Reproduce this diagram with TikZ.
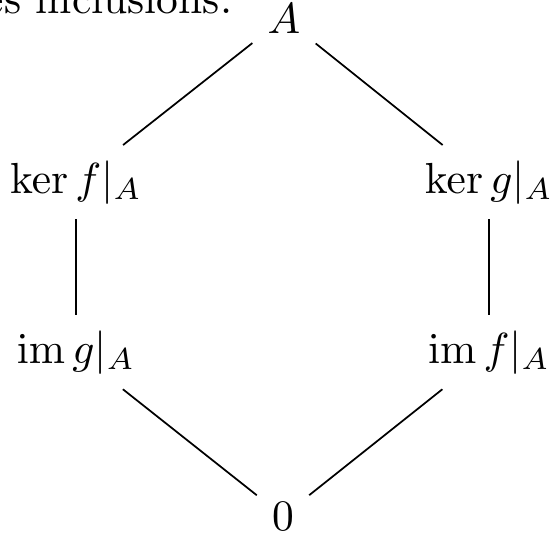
\documentclass[tikz,border=0pt]{standalone}
\usepackage{amsmath}
\begin{document}
\begin{tikzpicture}[x=0.2299pt,y=-0.2299pt,
  obj/.style={anchor=base,inner sep=3.33pt},
  edge/.style={line width=0.4pt}]
\useasboundingbox (0,0) rectangle (550,534);
\node[anchor=base east,inner sep=0pt] (txt) at (233,13) {es inclusions.};
\node[obj] (A) at (284,33) {$A$};
\node[obj] (kf) at (76,193) {$\ker f|_A$};
\node[obj] (kg) at (489,193) {$\ker g|_A$};
\node[obj] (ig) at (76,363) {$\operatorname{im} g|_A$};
\node[obj] (if) at (489,363) {$\operatorname{im} f|_A$};
\node[obj] (z) at (283,530) {$0$};
\draw[edge] (A) -- (kf);
\draw[edge] (A) -- (kg);
\draw[edge] (kf) -- (ig);
\draw[edge] (kg) -- (if);
\draw[edge] (ig) -- (z);
\draw[edge] (if) -- (z);
\end{tikzpicture}
\end{document}
